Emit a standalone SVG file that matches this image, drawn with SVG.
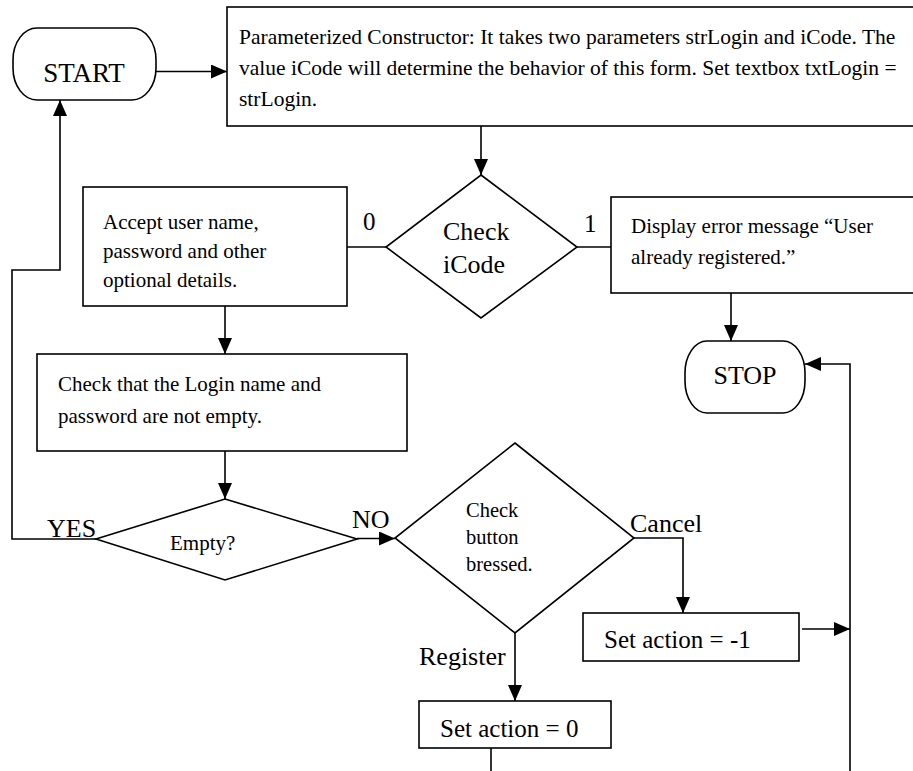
<svg xmlns="http://www.w3.org/2000/svg" width="913" height="771" viewBox="0 0 913 771" font-family="'Liberation Serif', 'DejaVu Serif', serif">
  <defs>
    <marker id="arrowBig" viewBox="0 0 16 14" refX="16" refY="7" markerWidth="16" markerHeight="14" markerUnits="userSpaceOnUse" orient="auto">
      <path d="M0,0 L16,7 L0,14 Z" fill="#000"/>
    </marker>
  </defs>
  <style>
    .shape { fill: #fff; stroke: #000; stroke-width: 1.6; }
    .wire { fill: none; stroke: #000; stroke-width: 1.6; }
    text { font-family: 'Liberation Serif', 'Times New Roman', 'DejaVu Serif', serif; fill: #000; }
    .body { font-size: 21px; }
    .big { font-size: 26px; }
    .mid { font-size: 25px; }
  </style>
  <rect width="913" height="771" fill="#fff"/>

  <!-- connectors -->
  <g id="connectors">
    <line class="wire" x1="156" y1="71.5" x2="227" y2="71.5" marker-end="url(#arrowBig)"/>
    <line class="wire" x1="481" y1="126" x2="481" y2="175" marker-end="url(#arrowBig)"/>
    <line class="wire" x1="386" y1="247" x2="347" y2="247"/>
    <line class="wire" x1="577" y1="247" x2="611" y2="247"/>
    <line class="wire" x1="731" y1="293" x2="731" y2="341" marker-end="url(#arrowBig)"/>
    <line class="wire" x1="225" y1="306" x2="225" y2="354" marker-end="url(#arrowBig)"/>
    <line class="wire" x1="225" y1="451" x2="225" y2="499" marker-end="url(#arrowBig)"/>
    <polyline class="wire" points="96,539 12,539 12,270 60,270 60,100" marker-end="url(#arrowBig)"/>
    <line class="wire" x1="357" y1="538.5" x2="395" y2="538.5" marker-end="url(#arrowBig)"/>
    <polyline class="wire" points="634,538 683,538 683,613" marker-end="url(#arrowBig)"/>
    <line class="wire" x1="515" y1="633" x2="515" y2="701" marker-end="url(#arrowBig)"/>
    <line class="wire" x1="802" y1="629" x2="850" y2="629" marker-end="url(#arrowBig)"/>
    <polyline class="wire" points="850,771 850,364 805,364" marker-end="url(#arrowBig)"/>
    <line class="wire" x1="491" y1="748" x2="491" y2="771"/>
  </g>

  <!-- connector labels -->
  <g id="labels">
    <text class="big" x="363" y="230" style="font-size:25px">0</text>
    <text class="big" x="584" y="232" style="font-size:25px">1</text>
    <text class="big" x="47" y="537">YES</text>
    <text class="big" x="352" y="528">NO</text>
    <text class="big" x="630" y="532">Cancel</text>
    <text class="big" x="419" y="665">Register</text>
  </g>

  <g id="start">
    <rect class="shape" x="13" y="28" width="143" height="72" rx="24" ry="32"/>
    <text class="big" x="84" y="82" text-anchor="middle" style="font-size:27px">START</text>
  </g>

  <g id="constructor">
    <rect class="shape" x="227" y="7" width="690" height="119"/>
    <text class="body" x="239" y="44" style="font-size:21.5px">Parameterized Constructor: It takes two parameters strLogin and iCode. The</text>
    <text class="body" x="239" y="75" style="font-size:21.5px">value iCode will determine the behavior of this form. Set textbox txtLogin =</text>
    <text class="body" x="239" y="106" style="font-size:21.5px">strLogin.</text>
  </g>

  <g id="check-icode">
    <polygon class="shape" points="481,175 577,247 481,318 386,247"/>
    <text class="big" x="443" y="240">Check</text>
    <text class="big" x="443" y="273">iCode</text>
  </g>

  <g id="accept">
    <rect class="shape" x="83" y="187" width="264" height="119"/>
    <text class="body" x="103" y="229">Accept user name,</text>
    <text class="body" x="103" y="258">password and other</text>
    <text class="body" x="103" y="287">optional details.</text>
  </g>

  <g id="error">
    <rect class="shape" x="611" y="197" width="306" height="96"/>
    <text class="body" x="631" y="233">Display error message “User</text>
    <text class="body" x="631" y="264">already registered.”</text>
  </g>

  <g id="stop">
    <rect class="shape" x="685" y="341" width="120" height="72" rx="22" ry="32"/>
    <text class="big" x="745" y="384" text-anchor="middle">STOP</text>
  </g>

  <g id="check-empty">
    <rect class="shape" x="37" y="354" width="370" height="97"/>
    <text class="body" x="58" y="391">Check that the Login name and</text>
    <text class="body" x="58" y="423">password are not empty.</text>
  </g>

  <g id="empty">
    <polygon class="shape" points="225,499 357,539 225,580 96,539"/>
    <text class="body" x="170" y="550">Empty?</text>
  </g>

  <g id="check-button">
    <polygon class="shape" points="515,443 634,538 515,633 395,538"/>
    <text class="body" x="466" y="517" style="font-size:20.5px">Check</text>
    <text class="body" x="466" y="544" style="font-size:20.5px">button</text>
    <text class="body" x="466" y="571" style="font-size:20.5px">bressed.</text>
  </g>

  <g id="cancel-action">
    <rect class="shape" x="583" y="613" width="216" height="48"/>
    <text class="mid" x="604" y="648">Set action = -1</text>
  </g>

  <g id="register-action">
    <rect class="shape" x="419" y="701" width="192" height="47"/>
    <text class="mid" x="440" y="737">Set action = 0</text>
  </g>
</svg>
